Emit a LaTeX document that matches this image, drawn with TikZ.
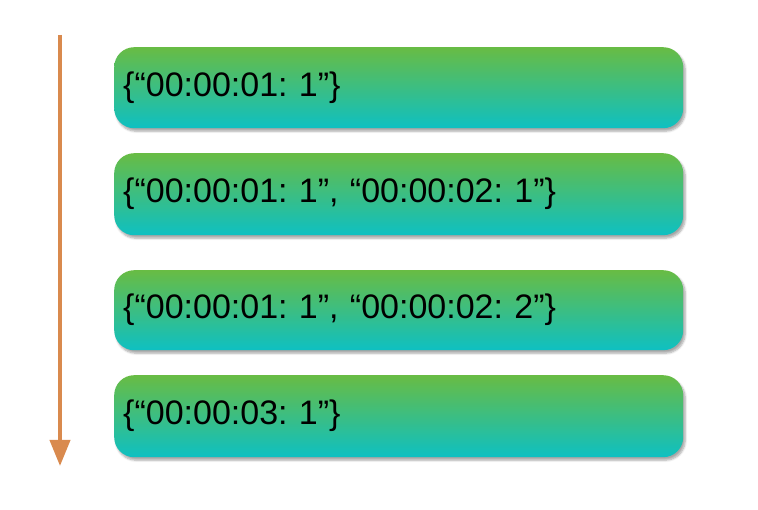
\documentclass[tikz,border=0pt]{standalone}
\usepackage{fontspec}
\setmainfont{Liberation Sans}
\usetikzlibrary{arrows.meta,positioning,shadows.blur}
\definecolor{boxtop}{HTML}{68BC44}
\definecolor{boxbot}{HTML}{0EC0C2}
\definecolor{timeline}{HTML}{D98A4E}
\frenchspacing

\begin{document}
\begin{tikzpicture}[x=1pt,y=-1pt,
    cell/.style={rounded corners=20pt,top color=boxtop,bottom color=boxbot,
      minimum width=569pt,text width=551pt,inner xsep=9pt,align=left,
      anchor=north west,font=\fontsize{34}{38}\selectfont,
      blur shadow={shadow xshift=2pt,shadow yshift=-3pt,shadow opacity=35,shadow blur steps=6}}]
  \useasboundingbox (0,0) rectangle (758,510);
  \foreach \y/\h/\n/\t in {47/81/s1/{\{“00:00:01: 1”\}},
                           153/82/s2/{\{“00:00:01: 1”, “00:00:02: 1”\}},
                           270/80/s3/{\{“00:00:01: 1”, “00:00:02: 2”\}},
                           375/82/s4/{\{“00:00:03: 1”\}}} {
    \node[cell,minimum height=\h pt] (\n) at (114,\y) {\t};
  }
  % time axis
  \coordinate (tstart) at (60,35);
  \coordinate (tend) at (60,466);
  \draw[timeline,line width=4pt,-{Triangle[length=26pt,width=20pt]}] (tstart) -- (tend);
\end{tikzpicture}
\end{document}
